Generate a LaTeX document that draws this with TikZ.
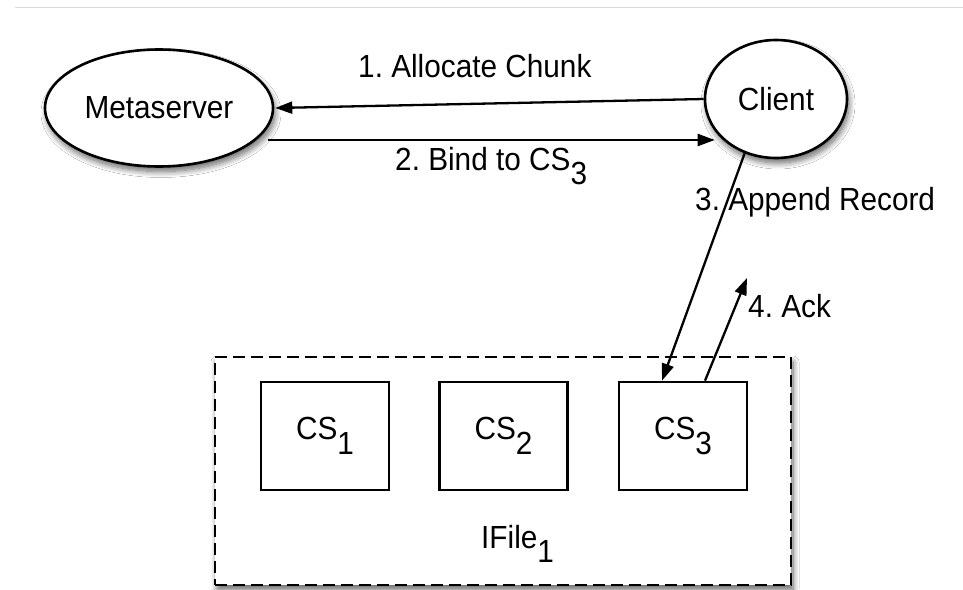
\documentclass[tikz,border=0pt]{standalone}
\usepackage{fontspec}
\setmainfont[FakeStretch=0.93]{Liberation Sans}
\usetikzlibrary{arrows.meta,shapes.geometric,shadows.blur}
\newcommand\lowsub[1]{\raisebox{-0.45em}{#1}}
\frenchspacing
\begin{document}
\begin{tikzpicture}[x=1pt,y=-1pt,
  font=\fontsize{32}{37}\selectfont,
  softshadow/.style={blur shadow={shadow xshift=2pt, shadow yshift=-5pt, shadow blur radius=6pt, shadow blur steps=10, shadow opacity=60}},
  oval/.style={ellipse, draw, line width=2.6pt, fill=white, inner sep=0pt, softshadow},
  csbox/.style={rectangle, draw, line width=2.6pt, fill=white, minimum width=128pt, minimum height=108pt, inner sep=0pt},
  groupbox/.style={rectangle, draw, line width=2.8pt, dash pattern=on 12pt off 6pt, fill=white, minimum width=576pt, minimum height=228pt, inner sep=0pt, softshadow},
  msg/.style={-{Triangle[length=17pt,width=12pt]}, line width=2.3pt},
  lbl/.style={anchor=base west, inner sep=0pt}]
\useasboundingbox (0,0) rectangle (963,589);
\fill[white] (0,0) rectangle (963,589);
% top rule
\coordinate (ruleA) at (15,7);
\coordinate (ruleB) at (963,7);
\draw[line width=1pt, black!14] (ruleA) -- (ruleB);

% group box
\node[groupbox] (grp) at (503,471) {};
\node[csbox] (cs1) at (325,436) {CS\lowsub{1}};
\node[csbox] (cs2) at (503.5,436) {CS\lowsub{2}};
\node[csbox] (cs3) at (683,436) {CS\lowsub{3}};
\node[lbl] (ifile) at (481,548) {IFile\lowsub{1}};

% ellipses
\node[oval, minimum width=228pt, minimum height=117pt] (meta) at (159,108) {Metaserver};
\node[oval, minimum width=142pt, minimum height=118pt] (client) at (776,99) {Client};

% messages
\draw[msg] (client.west) -- ([xshift=1pt]meta.east);
\draw[msg] ([xshift=-6pt,yshift=-32pt]meta.east) -- ([xshift=11pt,yshift=-41pt]client.west);
\draw[msg] (client.240) -- ([xshift=-21pt]cs3.north);
\coordinate (ackend) at (747,278);
\draw[msg] ([xshift=22pt]cs3.north) -- (ackend);

% labels
\node[lbl] (l1) at (358,77) {1. Allocate Chunk};
\node[lbl] (l2) at (395,170) {2. Bind to CS\lowsub{3}};
\node[lbl] (l3) at (695,210) {3. Append Record};
\node[lbl] (l4) at (748,317) {4. Ack};
\end{tikzpicture}
\end{document}
